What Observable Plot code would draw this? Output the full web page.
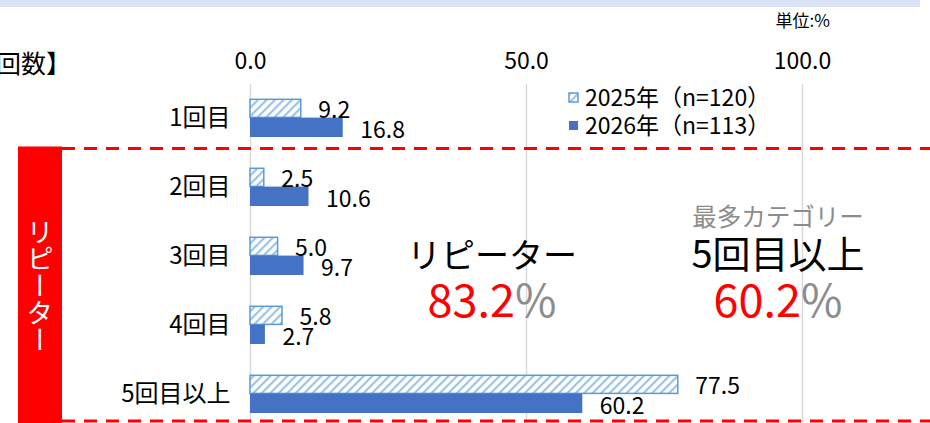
<!DOCTYPE html>
<html>
<head>
<meta charset="utf-8">
<script src="https://cdn.jsdelivr.net/npm/d3@7"></script>
<script src="https://cdn.jsdelivr.net/npm/@observablehq/plot@0.6"></script>
<style>
  body { margin: 0; background: #fff; }
  #chart svg { display: block; }
</style>
</head>
<body>
<div id="chart"></div>
<script>
// 来場回数（2025年 vs 2026年）, 単位:%
const categories = ["1回目", "2回目", "3回目", "4回目", "5回目以上"];
const values2025 = [9.2, 2.5, 5.0, 5.8, 77.5];
const values2026 = [16.8, 10.6, 9.7, 2.7, 60.2];
const seriesLabels = ["2025年（n=120）", "2026年（n=113）"];
const xTicks = [0, 50, 100];
const repeaterCategories = ["2回目", "3回目", "4回目", "5回目以上"];

const FONT = "'Noto Sans CJK JP', 'Noto Sans', sans-serif";
const SOLID = "#4472c4";
const HATCH_EDGE = "#5b9bd5";

const rows2025 = categories.map((c, i) => ({cat: c, v: values2025[i]}));
const rows2026 = categories.map((c, i) => ({cat: c, v: values2026[i]}));

// リピーター = 2回目以降の合計, 最多カテゴリー = 2026年の最大値
const repeaterShare = d3.sum(rows2026.filter(d => repeaterCategories.includes(d.cat)), d => d.v);
const topRow = rows2026.reduce((a, b) => (b.v > a.v ? b : a));

const chart = Plot.plot({
  width: 930,
  height: 423,
  marginTop: 84,
  marginLeft: 250,
  marginRight: 128,
  marginBottom: 0,
  style: {fontFamily: FONT, color: "#000", background: "#fff", overflow: "visible"},
  x: {domain: [0, 100], range: [250, 802]},
  y: {domain: categories, range: [82.5, 428], padding: 0},
  marks: [
    Plot.ruleX(xTicks, {stroke: "#d9d9d9", strokeWidth: 1.5}),
    Plot.barX(rows2025, {x: "v", y: "cat", fill: "url(#hatch2025)", stroke: HATCH_EDGE, strokeWidth: 1.5, insetTop: 16.3, insetBottom: 34.6}),
    Plot.barX(rows2026, {x: "v", y: "cat", fill: SOLID, insetTop: 34.6, insetBottom: 15}),
    Plot.text(rows2025, {x: "v", y: "cat", text: d => d.v.toFixed(1), textAnchor: "start", dx: 17, dy: -7, fontSize: 23, fill: "#000"}),
    Plot.text(rows2026, {x: "v", y: "cat", text: d => d.v.toFixed(1), textAnchor: "start", dx: 17, dy: 13, fontSize: 23, fill: "#000"}),
    Plot.axisX({anchor: "top", ticks: xTicks, tickFormat: d => d.toFixed(1), tickSize: 0, tickPadding: 16, fontSize: 23, label: null}),
    Plot.axisY({tickSize: 0, tickPadding: 20, fontSize: 24, label: null})
  ]
});

document.getElementById("chart").appendChild(chart);

const svg = d3.select(chart);
const y = chart.scale("y");

// hatch pattern for the 2025 bars
svg.insert("defs", ":first-child").html(`
  <pattern id="hatch2025" patternUnits="userSpaceOnUse" width="6" height="6" patternTransform="rotate(45)">
    <rect width="6" height="6" fill="#ffffff"></rect>
    <rect width="2.2" height="6" fill="#9dc3e6"></rect>
  </pattern>`);

const deco = svg.append("g").attr("font-family", FONT).attr("text-anchor", "start");

// header band, title fragment and unit
deco.append("rect").attr("x", 0).attr("y", 0).attr("width", 920).attr("height", 7).attr("fill", "#dae3f3");
deco.append("text").attr("x", -4).attr("y", 73).attr("font-size", 25).attr("fill", "#000").text("回数】");
deco.append("text").attr("x", 830).attr("y", 27).attr("font-size", 17).attr("text-anchor", "end").attr("fill", "#000").text("単位:%");

// legend
const legendX = 569;
[0, 1].forEach(i => {
  const ly = 93 + i * 28;
  deco.append("rect").attr("x", legendX).attr("y", ly).attr("width", 9).attr("height", 9)
    .attr("fill", i === 0 ? "url(#hatch2025)" : SOLID)
    .attr("stroke", i === 0 ? HATCH_EDGE : "none").attr("stroke-width", 1.5);
  deco.append("text").attr("x", 585).attr("y", ly + 13).attr("font-size", 23).attr("fill", "#000").text(seriesLabels[i]);
});

// リピーター bracket: dashed frame and red side label
const groupTop = y.apply(repeaterCategories[0]) - 3.5;
const groupBottom = 421;
[groupTop, groupBottom].forEach(ly => {
  deco.append("line").attr("x1", 62).attr("x2", 930).attr("y1", ly).attr("y2", ly)
    .attr("stroke", "#ff0000").attr("stroke-width", 3).attr("stroke-dasharray", "13 9");
});
deco.append("rect").attr("x", 18).attr("y", groupTop - 2).attr("width", 44).attr("height", 423 - groupTop + 2).attr("fill", "#ff0000");
deco.append("text").attr("x", 40).attr("y", (groupTop + 423) / 2)
  .attr("font-size", 27).attr("fill", "#fff").attr("text-anchor", "middle")
  .style("writing-mode", "vertical-rl").text("リピーター");

// summary callouts
function callout(cx, heading, value, sub) {
  if (sub) {
    deco.append("text").attr("x", cx).attr("y", 226).attr("font-size", 24.5).attr("fill", "#8c8c8c")
      .attr("text-anchor", "middle").text(sub);
  }
  deco.append("text").attr("x", cx).attr("y", 268).attr("font-size", heading.size).attr("fill", "#000")
    .attr("text-anchor", "middle").text(heading.text);
  const t = deco.append("text").attr("x", cx).attr("y", 317).attr("font-size", 45).attr("text-anchor", "middle");
  t.append("tspan").attr("fill", "#ff0000").text(value.toFixed(1));
  t.append("tspan").attr("fill", "#8c8c8c").text("%");
}
callout(492, {text: "リピーター", size: 34}, repeaterShare, null);
callout(778, {text: topRow.cat, size: 38}, topRow.v, "最多カテゴリー");
</script>
</body>
</html>
